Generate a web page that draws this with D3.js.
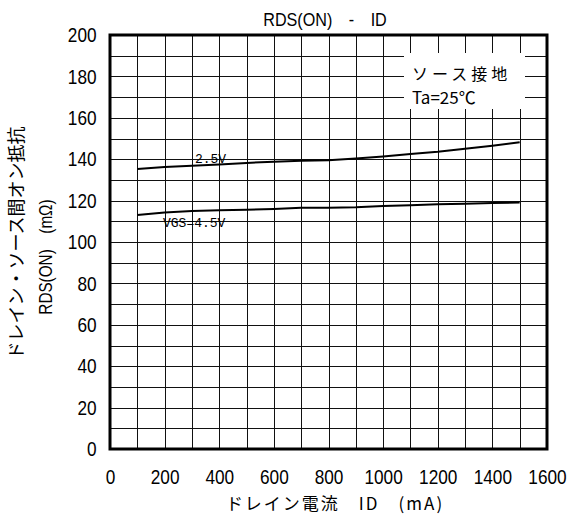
<!DOCTYPE html>
<html><head><meta charset="utf-8">
<script src="https://cdn.jsdelivr.net/npm/d3@7"></script>
<style>
html,body{margin:0;padding:0;background:#fff;}
svg{display:block;}
.num{font-family:"Liberation Sans",Arial,sans-serif;}
.mono{font-family:"Liberation Mono","DejaVu Sans Mono",monospace;}
.jp{font-family:"Noto Sans CJK JP",sans-serif;}
</style></head>
<body>
<script>
// ---- data ----
const xTicks = [0,200,400,600,800,1000,1200,1400,1600];
const yTicks = [0,20,40,60,80,100,120,140,160,180,200];
const idValues = [100,200,300,400,500,600,700,800,900,1000,1100,1200,1300,1400,1500];
const rds25 = [135.3,136.2,136.8,137.4,138.2,138.8,139.2,139.5,140.3,141.3,142.5,143.6,145.0,146.5,148.2];
const rds45 = [113.0,114.3,115.0,115.3,115.6,116.0,116.5,116.6,116.8,117.4,117.8,118.2,118.5,118.8,119.1];
const seriesLabels = ["2.5V","VGS=4.5V"];
const titleText = "RDS(ON)\u3000-\u3000ID";
const xTitle = "ドレイン電流\u3000ID\u3000(mA)";
const yTitle1 = "ドレイン・ソース間オン抵抗";
const yTitle2 = "RDS(ON)\u3000(mΩ)";
const legend1 = "ソース接地";
const legend2 = "Ta=25℃";

const W=569,H=519;
const L=110,R=547,T=35,B=449;
const svg=d3.select("body").append("svg").attr("width",W).attr("height",H);
const x=d3.scaleLinear().domain([0,1600]).range([L,R]);
const y=d3.scaleLinear().domain([0,200]).range([B,T]);

// grid
const gx=svg.append("g").attr("transform",`translate(0,${B})`)
  .call(d3.axisBottom(x).tickValues(d3.range(100,1600,100)).tickSize(-(B-T)).tickFormat(""));
gx.select(".domain").remove();
gx.selectAll("line").attr("stroke","#111").attr("stroke-width",1).attr("shape-rendering","crispEdges");
const gy=svg.append("g").attr("transform",`translate(${L},0)`)
  .call(d3.axisLeft(y).tickValues(d3.range(10,200,10)).tickSize(-(R-L)).tickFormat(""));
gy.select(".domain").remove();
gy.selectAll("line").attr("stroke","#111").attr("stroke-width",1).attr("shape-rendering","crispEdges");

// legend box (white area covering grid)
svg.append("rect").attr("x",404).attr("y",53).attr("width",121).attr("height",56).attr("fill","#fff");
svg.append("text").attr("class","jp").attr("x",412).attr("y",80).attr("font-size",16)
  .attr("letter-spacing",4).text(legend1);
svg.append("text").attr("class","jp").attr("x",412).attr("y",104).attr("font-size",17).text(legend2);

// border
svg.append("rect").attr("x",L).attr("y",T).attr("width",R-L).attr("height",B-T)
  .attr("fill","none").attr("stroke","#000").attr("stroke-width",3);

// tick labels via axes
const ax=svg.append("g").attr("transform",`translate(0,${B+17})`)
  .call(d3.axisBottom(x).tickValues(xTicks).tickSize(0).tickFormat(d3.format("d")));
ax.select(".domain").remove();
ax.selectAll("text").attr("class","num").attr("font-size",21).attr("fill","#000")
  .attr("transform","scale(0.82,1)");
const ay=svg.append("g").attr("transform",`translate(${L-11},0)`)
  .call(d3.axisLeft(y).tickValues(yTicks).tickSize(0).tickFormat(d3.format("d")));
ay.select(".domain").remove();
ay.selectAll("text").attr("class","num").attr("font-size",21).attr("fill","#000")
  .attr("transform","scale(0.82,1)");

// lines
const line=d3.line().x(d=>x(d[0])).y(d=>y(d[1]));
[rds25,rds45].forEach(s=>{
  svg.append("path").datum(idValues.map((v,i)=>[v,s[i]])).attr("d",line)
    .attr("fill","none").attr("stroke","#000").attr("stroke-width",2);
});
svg.append("text").attr("class","mono").attr("x",x(311)).attr("y",y(138)).attr("font-size",13).text(seriesLabels[0]);
svg.append("text").attr("class","mono").attr("x",x(194)).attr("y",y(107.3)).attr("font-size",13).text(seriesLabels[1]);

// titles
svg.append("text").attr("class","num").attr("transform","translate(325,26) scale(0.85,1)")
  .attr("text-anchor","middle").attr("font-size",19).text(titleText);
svg.append("text").attr("class","jp").attr("x",335).attr("y",510).attr("text-anchor","middle").attr("font-size",17).attr("letter-spacing",2).text(xTitle);
svg.append("text").attr("class","jp").attr("transform","translate(23,243) rotate(-90)").attr("text-anchor","middle").attr("font-size",18).text(yTitle1);
svg.append("text").attr("class","num").attr("transform","translate(52,257) rotate(-90) scale(0.85,1)").attr("text-anchor","middle").attr("font-size",18).text(yTitle2);
</script>
</body></html>
